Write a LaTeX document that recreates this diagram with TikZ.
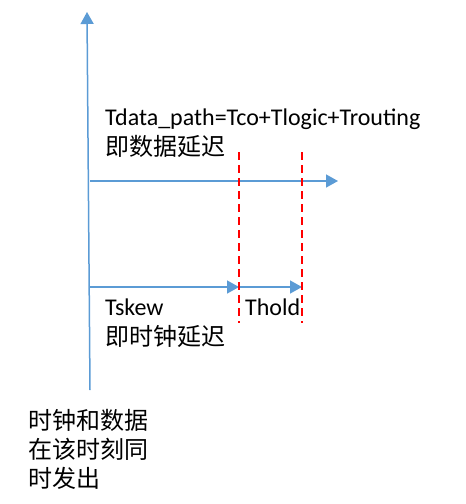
\documentclass[tikz,border=0pt]{standalone}
\usepackage{fontspec}
\setmainfont{Carlito}
\newfontfamily\cjk{Noto Sans CJK SC}
\usetikzlibrary{arrows.meta, positioning}
\definecolor{axisblue}{HTML}{5B9BD5}
\tikzstyle{axis}   = [draw, axisblue, line width=1.5pt, -{Triangle[length=12pt, width=13pt]}]
\tikzstyle{marker} = [draw, red, line width=2pt, dash pattern=on 8pt off 5pt]
\tikzstyle{label}  = [inner sep=0pt, align=left, anchor=north west, font=\fontsize{24}{30}\selectfont]

\begin{document}
\begin{tikzpicture}[x=1pt, y=-1pt]
    \useasboundingbox (0,0) rectangle (466,504);
    \coordinate (origin) at (90,390);
    \coordinate (top) at (87,12);
    \coordinate (d0) at (90,181);
    \coordinate (d1) at (338,181);
    \coordinate (s0) at (90,287);
    \coordinate (s1) at (239,287);
    \coordinate (h1) at (302,287);
    \coordinate (m1top) at (239,152);
    \coordinate (m1bot) at (239,323);
    \coordinate (m2top) at (302,152);
    \coordinate (m2bot) at (302,323);
    \path[axis](origin) -- (top);
    \path[axis](d0) -- (d1);
    \path[axis](s0) -- (s1);
    \path[axis](s1) -- (h1);
    \path[marker](m1top) -- (m1bot);
    \path[marker](m2top) -- (m2bot);
    \node[label](datapath) at (105,109){Tdata\_path=Tco+Tlogic+Trouting\\{\cjk 即数据延迟}};
    \node[label](skew) at (105,299){Tskew\\{\cjk 即时钟延迟}};
    \node[label](hold) at (245,299){Thold};
    \node[label, font=\fontsize{24}{29}\selectfont\cjk](launch) at (28,409){时钟和数据\\在该时刻同\\时发出};
\end{tikzpicture}
\end{document}
